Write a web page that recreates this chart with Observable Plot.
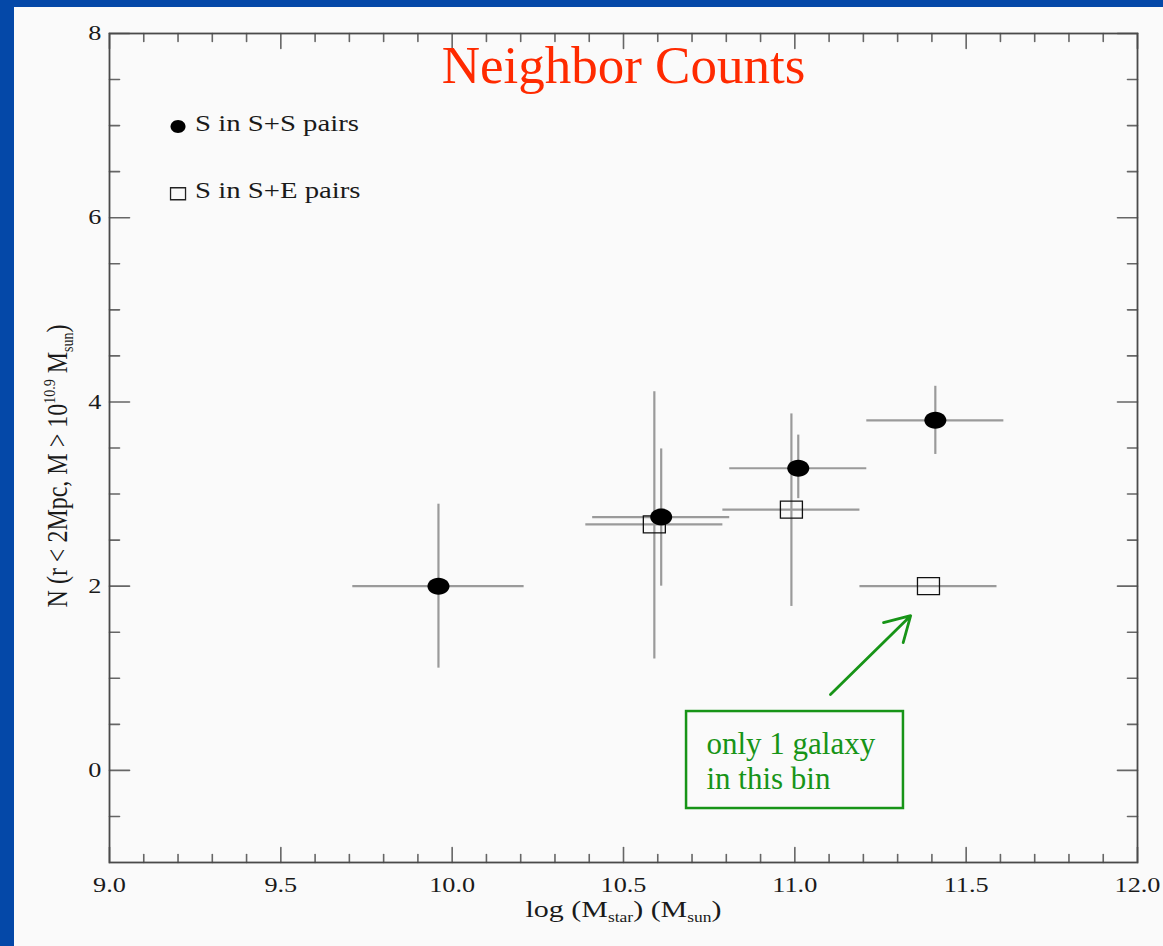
<!DOCTYPE html>
<html>
<head>
<meta charset="utf-8">
<script src="https://cdn.jsdelivr.net/npm/d3@7"></script>
<script src="https://cdn.jsdelivr.net/npm/@observablehq/plot@0.6"></script>
<style>
html, body { margin: 0; padding: 0; width: 1163px; height: 946px; overflow: hidden; background: #0448a8; }
#panel { position: absolute; left: 14px; top: 7px; width: 1149px; height: 939px; background: #fafafa; }
</style>
</head>
<body>
<div id="panel"></div>
<script>
// ---- Data: S in S+S pairs (filled circles)
const ssLogM   = [9.96, 10.61, 11.01, 11.41];
const ssN      = [2.00, 2.75, 3.28, 3.80];
const ssLogMLo = [9.71, 10.41, 10.81, 11.21];
const ssLogMHi = [10.21, 10.81, 11.21, 11.61];
const ssNLo    = [1.11, 2.00, 2.95, 3.43];
const ssNHi    = [2.89, 3.49, 3.64, 4.17];

// ---- Data: S in S+E pairs (open squares)
const seLogM   = [10.59, 10.99, 11.39];
const seN      = [2.67, 2.83, 2.00];
const seLogMLo = [10.39, 10.79, 11.19];
const seLogMHi = [10.79, 11.19, 11.59];
const seNLo    = [1.21, 1.78, null];
const seNHi    = [4.11, 3.87, null];

// ---- Ticks and texts
const xTickLabels = [9.0, 9.5, 10.0, 10.5, 11.0, 11.5, 12.0];
const yTickLabels = [0, 2, 4, 6, 8];
const legendLabels = ["S in S+S pairs", "S in S+E pairs"];
const legendLogM = [9.2, 9.2];
const legendN = [6.99, 6.26];
const titleText = "Neighbor Counts";
const xLabelText = "log (Mstar) (Msun)";
const yLabelText = "N (r < 2Mpc, M > 1010.9 Msun)";
const noteText = "only 1 galaxy\nin this bin";
const noteBox = [{x1: 10.684, x2: 11.317, y1: -0.414, y2: 0.639}];
const notePos = [{x: 10.742, y: 0.113}];
const noteArrow = [{x1: 11.104, y1: 0.824, x2: 11.338, y2: 1.68}];

const ss = ssLogM.map((x, i) => ({x, y: ssN[i], xlo: ssLogMLo[i], xhi: ssLogMHi[i], ylo: ssNLo[i], yhi: ssNHi[i]}));
const se = seLogM.map((x, i) => ({x, y: seN[i], xlo: seLogMLo[i], xhi: seLogMHi[i], ylo: seNLo[i], yhi: seNHi[i]}));
const seV = se.filter(d => d.ylo != null);
const legend = legendLabels.map((label, i) => ({label, x: legendLogM[i], y: legendN[i]}));

const xMinor = d3.range(91, 120).filter(d => d % 5 !== 0).map(d => d / 10);
const yMinor = d3.range(-1, 16).filter(d => d % 4 !== 0).map(d => d / 2);

const tickShape = {draw(c, l) { c.moveTo(0, 0); c.lineTo(0, -l); }};
const ellipse = (rx, ry) => ({draw(c) {
  const k = 0.5523;
  c.moveTo(rx, 0);
  c.bezierCurveTo(rx, ry * k, rx * k, ry, 0, ry);
  c.bezierCurveTo(-rx * k, ry, -rx, ry * k, -rx, 0);
  c.bezierCurveTo(-rx, -ry * k, -rx * k, -ry, 0, -ry);
  c.bezierCurveTo(rx * k, -ry, rx, -ry * k, rx, 0);
  c.closePath();
}});
const box = (w, h) => ({draw(c) { c.rect(-w / 2, -h / 2, w, h); }});

const tickColor = "#666";
const tickW = 1.6;
const vx = (data, anchor, rotate, length) => Plot.vectorX(data, {x: d => d, frameAnchor: anchor, rotate, length, anchor: "start", shape: tickShape, stroke: tickColor, strokeWidth: tickW});
const vy = (data, anchor, rotate, length) => Plot.vectorY(data, {y: d => d, frameAnchor: anchor, rotate, length, anchor: "start", shape: tickShape, stroke: tickColor, strokeWidth: tickW});

const green = "#179417";
const barColor = "#9a9a9a";
const serif = "Liberation Serif";
const ink = "#1a1a1a";

const chart = Plot.plot({
  width: 1149,
  height: 939,
  marginLeft: 95,
  marginRight: 26,
  marginTop: 26,
  marginBottom: 84,
  x: {domain: [9, 12], axis: null},
  y: {domain: [-1, 8], axis: null},
  style: {background: "#fafafa", fontFamily: serif, color: ink},
  marks: [
    // ticks (inward)
    vx(xTickLabels, "bottom", 0, 15), vx(xMinor, "bottom", 0, 8),
    vx(xTickLabels, "top", 180, 15), vx(xMinor, "top", 180, 8),
    vy(yTickLabels, "left", 90, 20), vy(yMinor, "left", 90, 10),
    vy(yTickLabels, "right", -90, 20), vy(yMinor, "right", -90, 10),
    Plot.frame({stroke: "#4a4a4a", strokeWidth: 1.8}),
    Plot.axisX(xTickLabels, {anchor: "bottom", tickSize: 0, tickPadding: 15, tickFormat: d => d.toFixed(1), fontSize: 21, fontFamily: serif, color: ink}),
    Plot.axisY(yTickLabels, {anchor: "left", tickSize: 0, tickPadding: 8, tickFormat: d => String(d), fontSize: 21, fontFamily: serif, color: ink}),
    Plot.text([xLabelText], {frameAnchor: "bottom", textAnchor: "middle", dy: 54, lineAnchor: "bottom", fontSize: 24, fontFamily: serif, fill: ink}),
    Plot.text([yLabelText], {frameAnchor: "left", textAnchor: "middle", dx: -52, dy: 18, rotate: -90, fontSize: 24, fontFamily: serif, fill: ink}),
    // error bars
    Plot.ruleY(ss, {y: "y", x1: "xlo", x2: "xhi", stroke: barColor, strokeWidth: 2.2}),
    Plot.ruleX(ss, {x: "x", y1: "ylo", y2: "yhi", stroke: barColor, strokeWidth: 2.2}),
    Plot.ruleY(se, {y: "y", x1: "xlo", x2: "xhi", stroke: barColor, strokeWidth: 2.2}),
    Plot.ruleX(seV, {x: "x", y1: "ylo", y2: "yhi", stroke: barColor, strokeWidth: 2.2}),
    // points
    Plot.dot(se, {x: "x", y: "y", symbol: box(22, 17), fill: "none", stroke: "#111", strokeWidth: 1.3}),
    Plot.dot(ss, {x: "x", y: "y", symbol: ellipse(11, 8.5), fill: "#000", stroke: "none"}),
    // legend
    Plot.dot(legend.slice(0, 1), {x: "x", y: "y", symbol: ellipse(7.5, 6.5), fill: "#000", stroke: "none"}),
    Plot.dot(legend.slice(1), {x: "x", y: "y", symbol: box(15, 12), fill: "none", stroke: "#222", strokeWidth: 1.3}),
    Plot.text(legend, {x: "x", y: "y", text: "label", textAnchor: "start", dx: 17, dy: 4, lineAnchor: "bottom", fontSize: 23, fontFamily: serif, fill: ink}),
    // title
    Plot.text([titleText], {frameAnchor: "top", textAnchor: "middle", dy: 49, lineAnchor: "bottom", fontSize: 53, fontFamily: serif, fill: "#ff2a00"}),
    // annotation
    Plot.rect(noteBox, {x1: "x1", x2: "x2", y1: "y1", y2: "y2", fill: "none", stroke: green, strokeWidth: 2.5}),
    Plot.text(notePos, {x: "x", y: "y", text: () => noteText, textAnchor: "start", lineAnchor: "middle", lineHeight: 1.15, fontSize: 31, fontFamily: serif, fill: green}),
    Plot.arrow(noteArrow, {x1: "x1", y1: "y1", x2: "x2", y2: "y2", stroke: green, strokeWidth: 2.8, headLength: 15})
  ]
});

// horizontal stretch of the figure's own lettering (as in the original image)
const S = 1.25;
const horiz = new Set([...xTickLabels.map(d => d.toFixed(1)), ...yTickLabels.map(String), ...legendLabels, xLabelText]);
chart.querySelectorAll("text").forEach(t => {
  const s = t.textContent;
  const tr = t.getAttribute("transform") || "";
  if (horiz.has(s)) t.setAttribute("transform", tr + ` scale(${S},1)`);
  else if (s === yLabelText) t.setAttribute("transform", tr + ` scale(1,${S})`);
});

// sub/superscripts
function rich(t, parts) {
  t.textContent = "";
  let shift = 0;
  for (const [s, kind] of parts) {
    const ts = document.createElementNS("http://www.w3.org/2000/svg", "tspan");
    ts.textContent = s;
    const target = kind === "sub" ? 5 : kind === "sup" ? -10 : 0;
    if (target !== shift) ts.setAttribute("dy", target - shift);
    shift = target;
    if (kind) ts.setAttribute("font-size", 14);
    t.appendChild(ts);
  }
}
chart.querySelectorAll("text").forEach(t => {
  if (t.textContent === xLabelText) rich(t, [["log (M"], ["star", "sub"], [") (M"], ["sun", "sub"], [")"]]);
  else if (t.textContent === yLabelText) rich(t, [["N (r < 2Mpc, M > 10"], ["10.9", "sup"], [" M"], ["sun", "sub"], [")"]]);
});

document.getElementById("panel").appendChild(chart);
</script>
</body>
</html>
